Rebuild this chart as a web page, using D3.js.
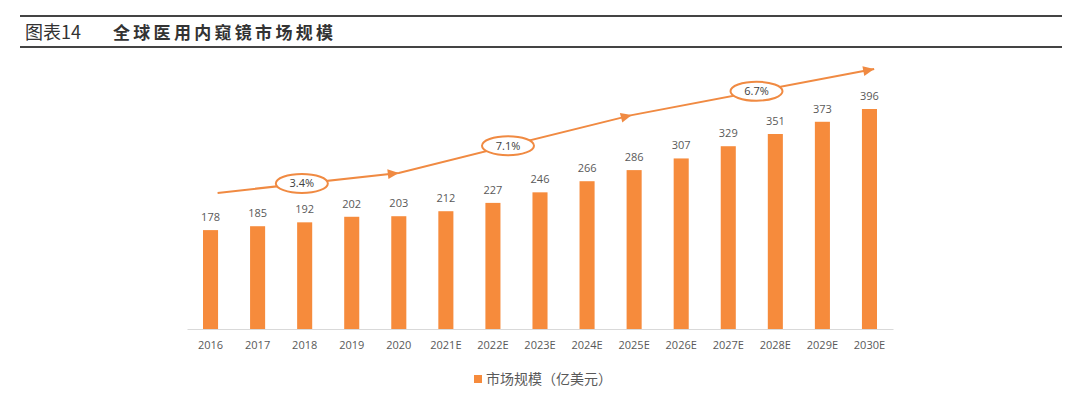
<!DOCTYPE html>
<html>
<head>
<meta charset="utf-8">
<script src="https://cdn.jsdelivr.net/npm/d3@7"></script>
<style>
  body { margin: 0; background: #fff; }
  svg { font-family: "Noto Sans CJK SC", "Noto Sans", sans-serif; }
</style>
</head>
<body>
<div id="chart"></div>
<script>
// chart data
const years = ["2016", "2017", "2018", "2019", "2020", "2021E", "2022E", "2023E",
  "2024E", "2025E", "2026E", "2027E", "2028E", "2029E", "2030E"];
const marketSize = [178, 185, 192, 202, 203, 212, 227, 246, 266, 286, 307, 329, 351, 373, 396];
const seriesName = "市场规模（亿美元）";

// growth arrow: [category index, value] points, plus CAGR badges along it
const arrowPoints = [[0.15, 245], [4, 281], [8.95, 385], [14.1, 468]];
const cagrLabels = ["3.4%", "7.1%", "6.7%"];
const cagrAt = [[1.94, 262], [6.32, 330], [11.6, 428]];

const svgWidth = 1080;
const svgHeight = 396;
const orange = "#F68B3C";
const textGrey = "#595959";

const margin = { top: 109, right: 187, bottom: 67, left: 187 };
const width = svgWidth - margin.left - margin.right;
const height = svgHeight - margin.top - margin.bottom;

const svg = d3.select("#chart")
  .append("svg")
  .attr("width", svgWidth)
  .attr("height", svgHeight);

// header
svg.append("line")
  .attr("x1", 20).attr("x2", 1062).attr("y1", 16).attr("y2", 16)
  .attr("stroke", "#444").attr("stroke-width", 2);
svg.append("line")
  .attr("x1", 20).attr("x2", 1062).attr("y1", 47).attr("y2", 47)
  .attr("stroke", "#444").attr("stroke-width", 2);
svg.append("text")
  .attr("x", 25).attr("y", 39)
  .attr("font-size", 18).attr("fill", "#333")
  .text("图表14");
svg.append("text")
  .attr("x", 113).attr("y", 39)
  .attr("font-size", 17).attr("font-weight", "bold")
  .attr("letter-spacing", 3.3).attr("fill", "#333")
  .text("全球医用内窥镜市场规模");

const chartGroup = svg.append("g")
  .attr("transform", `translate(${margin.left}, ${margin.top})`);

const xScale = d3.scaleBand()
  .domain(years)
  .range([0, width])
  .paddingInner(0.68)
  .paddingOuter(0.34);

const yScale = d3.scaleLinear()
  .domain([0, 396])
  .range([height, 0]);

// fractional category index -> x
const xIdx = d3.scaleLinear()
  .domain([0, years.length - 1])
  .range([xScale(years[0]) + xScale.bandwidth() / 2,
          xScale(years[years.length - 1]) + xScale.bandwidth() / 2]);

// x axis
const bottomAxis = d3.axisBottom(xScale).tickSize(0).tickPadding(12);
const xAxis = chartGroup.append("g")
  .attr("transform", `translate(0, ${height})`)
  .call(bottomAxis);
xAxis.select(".domain").attr("stroke", "#d9d9d9");
xAxis.selectAll("text")
  .attr("font-size", 11)
  .attr("fill", textGrey)
  .attr("font-family", "'Open Sans', sans-serif");

// bars
chartGroup.selectAll("rect.bar")
  .data(marketSize)
  .enter()
  .append("rect")
  .attr("class", "bar")
  .attr("x", (d, i) => xScale(years[i]))
  .attr("y", d => yScale(d))
  .attr("width", xScale.bandwidth())
  .attr("height", d => height - yScale(d))
  .attr("fill", orange);

// value labels
chartGroup.selectAll("text.val")
  .data(marketSize)
  .enter()
  .append("text")
  .attr("class", "val")
  .attr("x", (d, i) => xScale(years[i]) + xScale.bandwidth() / 2)
  .attr("y", d => yScale(d) - 9)
  .attr("text-anchor", "middle")
  .attr("font-size", 11)
  .attr("fill", textGrey)
  .attr("font-family", "'Open Sans', sans-serif")
  .text(d => d);

// growth arrow
const line = d3.line()
  .x(d => xIdx(d[0]))
  .y(d => yScale(d[1]));
chartGroup.append("path")
  .datum(arrowPoints)
  .attr("d", line)
  .attr("fill", "none")
  .attr("stroke", "#F08A42")
  .attr("stroke-width", 2);

// arrow heads at the inner points and the end
arrowPoints.slice(1).forEach((p, k) => {
  const prev = arrowPoints[k];
  const x = xIdx(p[0]), y = yScale(p[1]);
  const ang = Math.atan2(y - yScale(prev[1]), x - xIdx(prev[0])) * 180 / Math.PI;
  chartGroup.append("path")
    .attr("d", "M0,0 L-11,-5 L-11,5 Z")
    .attr("transform", `translate(${x}, ${y}) rotate(${ang})`)
    .attr("fill", "#F08A42");
});

// CAGR badges
const badges = chartGroup.selectAll("g.badge")
  .data(cagrLabels)
  .enter()
  .append("g")
  .attr("class", "badge")
  .attr("transform", (d, i) => `translate(${xIdx(cagrAt[i][0])}, ${yScale(cagrAt[i][1])})`);
badges.append("ellipse")
  .attr("rx", 26).attr("ry", 9.5)
  .attr("fill", "#fff")
  .attr("stroke", "#F08A42")
  .attr("stroke-width", 2);
badges.append("text")
  .attr("text-anchor", "middle")
  .attr("dy", "0.35em")
  .attr("font-size", 11)
  .attr("fill", "#404040")
  .attr("font-family", "'Open Sans', sans-serif")
  .text(d => d);

// legend
const legend = svg.append("g")
  .attr("transform", "translate(474, 379)");
legend.append("rect")
  .attr("x", 0).attr("y", -4)
  .attr("width", 8).attr("height", 8)
  .attr("fill", orange);
legend.append("text")
  .attr("x", 12).attr("dy", "0.35em")
  .attr("font-size", 14)
  .attr("fill", textGrey)
  .text(seriesName);
</script>
</body>
</html>
